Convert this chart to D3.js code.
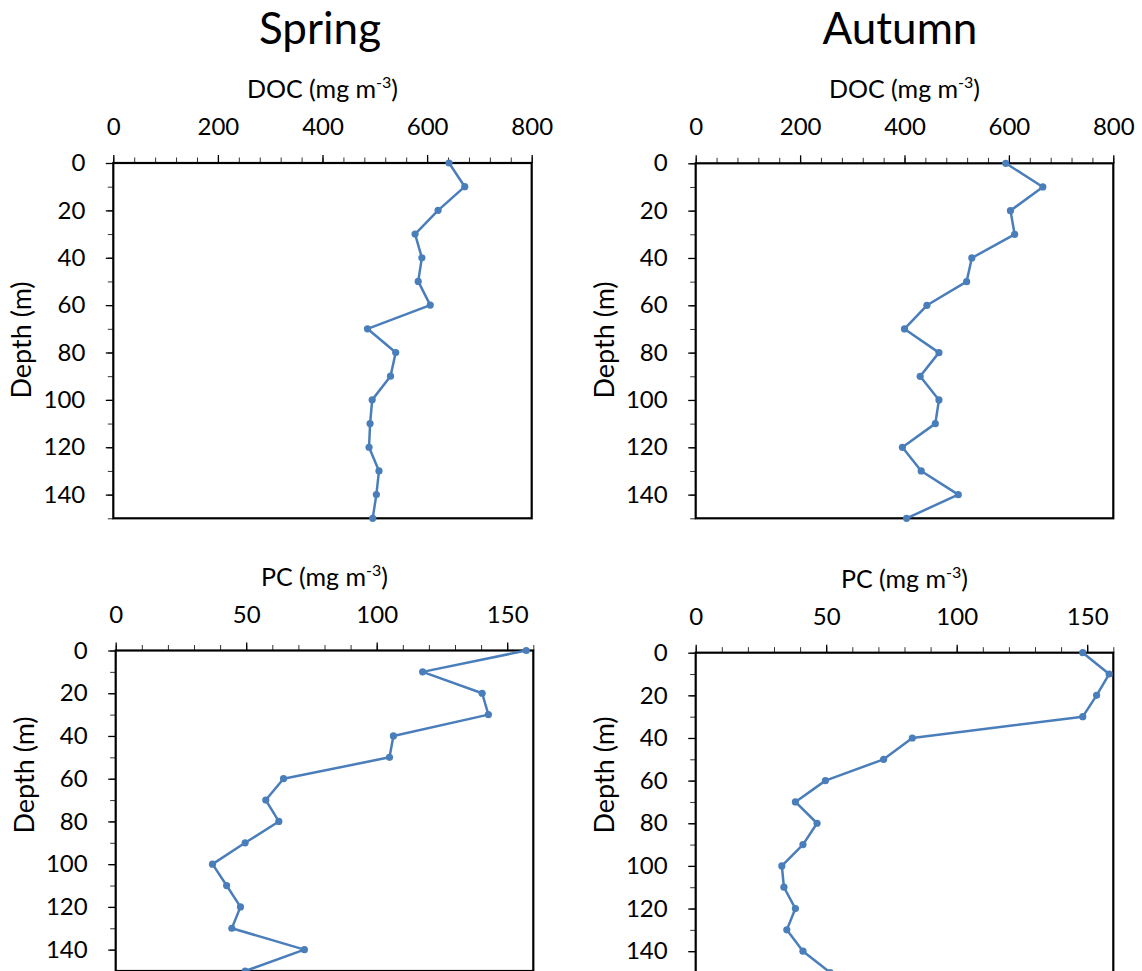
<!DOCTYPE html>
<html><head><meta charset="utf-8">
<script src="https://cdn.jsdelivr.net/npm/d3@7"></script>
<style>
html,body{margin:0;padding:0;background:#fff;overflow:hidden}
text{font-family:"Lato","Open Sans",sans-serif;fill:#000}
</style></head>
<body>
<svg id="c" width="1142" height="971"></svg>
<script>
const depths = [0,10,20,30,40,50,60,70,80,90,100,110,120,130,140,150];
const docSpring = [642,672,621,577,590,583,606,486,540,530,495,491,489,508,503,496];
const docAutumn = [594,665,603,611,529,519,443,400,466,430,466,459,396,432,503,404];
const pcSpring  = [157.3,117.6,140.4,142.8,106.4,104.9,64.3,57.5,62.5,49.6,37.1,42.5,47.8,44.5,72.3,49.6];
const pcAutumn  = [148.3,158.4,153.6,148.3,83.0,72.0,49.7,38.2,46.5,41.1,33.0,33.8,38.2,34.9,41.1,51.5];
const docTicks = [0,200,400,600,800];
const pcTicks = [0,50,100,150];
const depthTicks = [0,20,40,60,80,100,120,140];
const seasons = ["Spring","Autumn"];

const svg = d3.select("#c");
const color = "#4a7ebb";

const panels = [
  {vals:docSpring, xmax:800, xstep:40, xt:docTicks, title:"DOC", L:113.3, R:531.7, T:163, B:518.3, dy:340},
  {vals:docAutumn, xmax:800, xstep:40, xt:docTicks, title:"DOC", L:695.7, R:1113.3, T:163.3, B:518.3, dy:340},
  {vals:pcSpring, xmax:160, xstep:10, xt:pcTicks, title:"PC", L:115.7, R:533.3, T:650.5, B:971, dy:775},
  {vals:pcAutumn, xmax:160, xstep:10, xt:pcTicks, title:"PC", L:695.7, R:1113.3, T:652.7, B:972.5, dy:775}
];

svg.selectAll("text.season").data(seasons).join("text")
  .attr("class","season")
  .attr("x",(d,i)=>i===0?320:900).attr("y",44)
  .attr("text-anchor","middle").attr("font-size",44).text(d=>d);

panels.forEach(p=>{
  const x = d3.scaleLinear().domain([0,p.xmax]).range([p.L,p.R]);
  const y = d3.scaleLinear().domain([0,150]).range([p.T,p.B]);
  const g = svg.append("g");
  const clipId = "clip"+Math.round(p.L)+Math.round(p.T);
  g.append("clipPath").attr("id",clipId).append("rect")
    .attr("x",p.L-8).attr("y",p.T-8).attr("width",p.R-p.L+16).attr("height",p.B-p.T+16);

  const minorX = d3.range(0,p.xmax+0.001,p.xstep);
  g.append("g").attr("transform",`translate(0,${p.T})`)
    .call(d3.axisTop(x).tickValues(minorX).tickSize(5.5).tickFormat(""))
    .call(a=>a.select(".domain").remove())
    .call(a=>a.selectAll("line").attr("stroke","#333").attr("stroke-width",1));
  g.append("g").attr("transform",`translate(0,${p.T})`)
    .call(d3.axisTop(x).tickValues(p.xt).tickSize(8).tickPadding(20).tickFormat(d3.format("d")))
    .call(a=>a.select(".domain").remove())
    .call(a=>a.selectAll("line").attr("stroke","#000").attr("stroke-width",1.3))
    .call(a=>a.selectAll("text").attr("font-size",24).attr("font-family","Lato, sans-serif").attr("fill","#000"));

  g.append("g").attr("transform",`translate(${p.L},0)`)
    .call(d3.axisLeft(y).tickValues(d3.range(0,151,10)).tickSize(5.5).tickFormat(""))
    .call(a=>a.select(".domain").remove())
    .call(a=>a.selectAll("line").attr("stroke","#333").attr("stroke-width",1));
  g.append("g").attr("transform",`translate(${p.L},0)`)
    .call(d3.axisLeft(y).tickValues(depthTicks).tickSize(7.5).tickPadding(20.5).tickFormat(d3.format("d")))
    .call(a=>a.select(".domain").remove())
    .call(a=>a.selectAll("line").attr("stroke","#000").attr("stroke-width",1.3))
    .call(a=>a.selectAll("text").attr("font-size",24).attr("font-family","Lato, sans-serif").attr("fill","#000"));

  g.append("rect").attr("x",p.L).attr("y",p.T).attr("width",p.R-p.L).attr("height",p.B-p.T)
    .attr("fill","none").attr("stroke","#000").attr("stroke-width",2.2);

  const tt = g.append("text").attr("x",(p.L+p.R)/2).attr("y",p.T-65)
    .attr("text-anchor","middle").attr("font-size",25);
  tt.append("tspan").text(p.title+" (mg m");
  tt.append("tspan").attr("font-size",16).attr("dy",-10).text("-3");
  tt.append("tspan").attr("dy",10).text(")");

  g.append("text").attr("transform",`translate(${p.L-82},${p.dy}) rotate(-90)`)
    .attr("text-anchor","middle").attr("font-size",27).text("Depth (m)");

  const pts = depths.map((d,i)=>({d, v:p.vals[i]}));
  const dg = g.append("g").attr("clip-path",`url(#${clipId})`);
  dg.append("path").datum(pts)
    .attr("d",d3.line().x(d=>x(d.v)).y(d=>y(d.d)))
    .attr("fill","none").attr("stroke",color).attr("stroke-width",2.5).attr("stroke-linejoin","round");
  dg.selectAll("circle").data(pts).join("circle")
    .attr("cx",d=>x(d.v)).attr("cy",d=>y(d.d)).attr("r",3.6).attr("fill",color);
});
</script>
</body></html>
